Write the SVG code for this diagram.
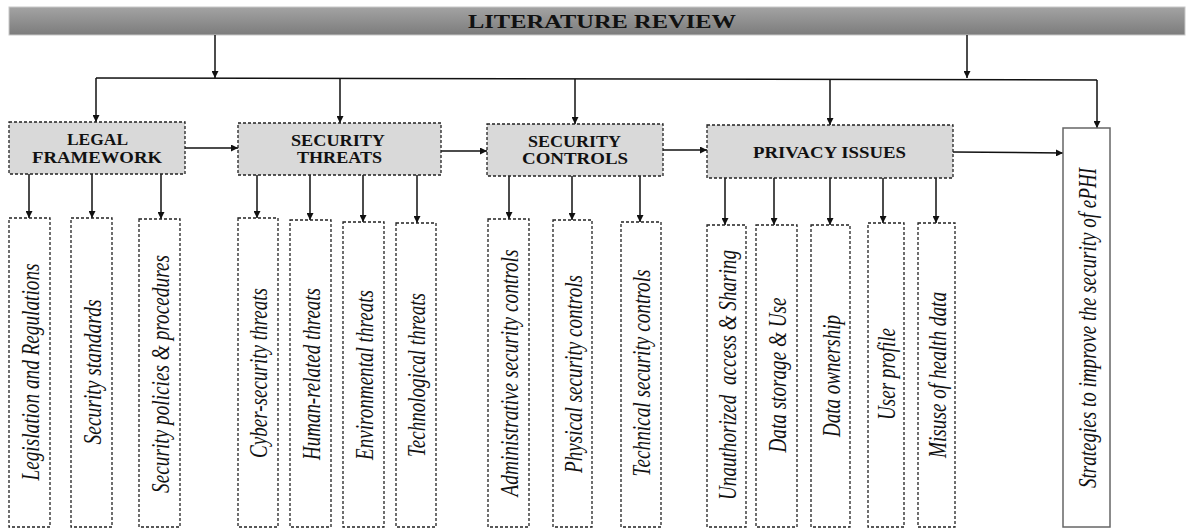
<svg xmlns="http://www.w3.org/2000/svg" width="1188" height="529" viewBox="0 0 1188 529">
<defs>
<linearGradient id="barG" x1="0" y1="0" x2="0" y2="1">
<stop offset="0" stop-color="#a3a3a3"/>
<stop offset="1" stop-color="#7c7c7c"/>
</linearGradient>
<marker id="ah" viewBox="0 0 10 10" refX="10" refY="5" markerWidth="7" markerHeight="7" markerUnits="userSpaceOnUse" orient="auto">
<path d="M0,0 L10,5 L0,10 z" fill="#111"/>
</marker>
</defs>
<style>
.parent{fill:#d9d9d9;stroke:#222;stroke-width:1.3;stroke-dasharray:3 2}
.child{fill:#fff;stroke:#222;stroke-width:1.3;stroke-dasharray:3 2}
.hd{font-family:"Liberation Serif","Times New Roman",serif;font-weight:bold;font-size:16px;fill:#111;text-anchor:middle}
.title{font-size:19px}
.it{font-family:"Liberation Serif","Times New Roman",serif;font-style:italic;font-size:25px;fill:#111;text-anchor:middle;white-space:pre}
.ln{fill:none;stroke:#111;stroke-width:1.5}
.ar{fill:none;stroke:#111;stroke-width:1.5;marker-end:url(#ah)}
</style>
<rect width="1188" height="529" fill="#fff"/>

<g id="literature-review">
<rect x="9" y="7" width="1176" height="28" fill="url(#barG)" stroke="#c8c8c8" stroke-width="1"/>
<text x="602" y="27.5" class="hd title" textLength="268" lengthAdjust="spacingAndGlyphs">LITERATURE REVIEW</text>
</g>

<g id="connectors">
<line class="ar" x1="215" y1="35" x2="215" y2="78"/>
<line class="ar" x1="967" y1="35" x2="967" y2="78"/>
<line class="ln" x1="96" y1="78" x2="1097" y2="80"/>
<line class="ar" x1="96" y1="78" x2="96" y2="122"/>
<line class="ar" x1="340" y1="79" x2="340" y2="123"/>
<line class="ar" x1="575" y1="79" x2="575" y2="124"/>
<line class="ar" x1="830" y1="80" x2="830" y2="125"/>
<line class="ar" x1="1097" y1="80" x2="1097" y2="128"/>
<line class="ar" x1="185" y1="148" x2="238" y2="148"/>
<line class="ar" x1="441" y1="151" x2="487" y2="151"/>
<line class="ar" x1="663" y1="150" x2="707" y2="150"/>
<line class="ar" x1="953" y1="152" x2="1063" y2="153"/>
<line class="ar" x1="29" y1="174" x2="29" y2="218"/>
<line class="ar" x1="92" y1="174" x2="92" y2="218"/>
<line class="ar" x1="161" y1="174" x2="161" y2="219"/>
<line class="ar" x1="257" y1="175" x2="257" y2="218"/>
<line class="ar" x1="310" y1="175" x2="310" y2="220"/>
<line class="ar" x1="363" y1="175" x2="363" y2="222"/>
<line class="ar" x1="417" y1="175" x2="417" y2="223"/>
<line class="ar" x1="509" y1="176" x2="509" y2="219"/>
<line class="ar" x1="572" y1="176" x2="572" y2="220"/>
<line class="ar" x1="640" y1="176" x2="640" y2="222"/>
<line class="ar" x1="725" y1="178" x2="725" y2="225"/>
<line class="ar" x1="774" y1="178" x2="774" y2="225"/>
<line class="ar" x1="830" y1="178" x2="830" y2="225"/>
<line class="ar" x1="883" y1="178" x2="883" y2="223"/>
<line class="ar" x1="936" y1="178" x2="936" y2="223"/>
</g>

<g id="legal-framework">
<rect class="parent" x="9" y="122" width="176" height="52"/>
<text class="hd" x="97.5" y="145" textLength="61" lengthAdjust="spacingAndGlyphs">LEGAL</text>
<text class="hd" x="97" y="163" textLength="130" lengthAdjust="spacingAndGlyphs">FRAMEWORK</text>
</g>
<g id="security-threats">
<rect class="parent" x="238" y="123" width="203" height="52"/>
<text class="hd" x="338" y="146" textLength="94" lengthAdjust="spacingAndGlyphs">SECURITY</text>
<text class="hd" x="339.5" y="163" textLength="85" lengthAdjust="spacingAndGlyphs">THREATS</text>
</g>
<g id="security-controls">
<rect class="parent" x="487" y="124" width="176" height="52"/>
<text class="hd" x="574.5" y="147" textLength="93" lengthAdjust="spacingAndGlyphs">SECURITY</text>
<text class="hd" x="575" y="164" textLength="106" lengthAdjust="spacingAndGlyphs">CONTROLS</text>
</g>
<g id="privacy-issues">
<rect class="parent" x="707" y="125" width="246" height="53"/>
<text class="hd" x="829.5" y="158" textLength="153" lengthAdjust="spacingAndGlyphs">PRIVACY ISSUES</text>
</g>
<g id="strategies">
<rect x="1063" y="128" width="47" height="399" fill="#fff" stroke="#666" stroke-width="1.5"/>
<text class="it" transform="translate(1096,328) rotate(-90)" textLength="320" lengthAdjust="spacingAndGlyphs">Strategies to improve the security of ePHI</text>
</g>

<g id="legislation">
<rect class="child" x="9" y="218" width="41" height="309"/>
<text class="it" transform="translate(38.5,372) rotate(-90)" textLength="217" lengthAdjust="spacingAndGlyphs">Legislation and Regulations</text>
</g>
<g id="security-standards">
<rect class="child" x="71" y="218" width="41" height="309"/>
<text class="it" transform="translate(100.5,372) rotate(-90)" textLength="145" lengthAdjust="spacingAndGlyphs">Security standards</text>
</g>
<g id="security-policies">
<rect class="child" x="139" y="219" width="41" height="308"/>
<text class="it" transform="translate(168.5,374) rotate(-90)" textLength="238" lengthAdjust="spacingAndGlyphs">Security policies &amp; procedures</text>
</g>
<g id="cyber-threats">
<rect class="child" x="238" y="218" width="40" height="309"/>
<text class="it" transform="translate(267,373) rotate(-90)" textLength="170" lengthAdjust="spacingAndGlyphs">Cyber-security threats</text>
</g>
<g id="human-threats">
<rect class="child" x="290" y="220" width="41" height="307"/>
<text class="it" transform="translate(319.5,374) rotate(-90)" textLength="172" lengthAdjust="spacingAndGlyphs">Human-related threats</text>
</g>
<g id="environmental-threats">
<rect class="child" x="343" y="222" width="41" height="305"/>
<text class="it" transform="translate(372.5,375) rotate(-90)" textLength="170" lengthAdjust="spacingAndGlyphs">Environmental threats</text>
</g>
<g id="technological-threats">
<rect class="child" x="396" y="223" width="40" height="304"/>
<text class="it" transform="translate(425,375) rotate(-90)" textLength="164" lengthAdjust="spacingAndGlyphs">Technological threats</text>
</g>
<g id="administrative-controls">
<rect class="child" x="488" y="219" width="41" height="308"/>
<text class="it" transform="translate(517.5,373) rotate(-90)" textLength="247" lengthAdjust="spacingAndGlyphs">Administrative security controls</text>
</g>
<g id="physical-controls">
<rect class="child" x="553" y="220" width="39" height="307"/>
<text class="it" transform="translate(581.5,374) rotate(-90)" textLength="198" lengthAdjust="spacingAndGlyphs">Physical security controls</text>
</g>
<g id="technical-controls">
<rect class="child" x="621" y="222" width="40" height="305"/>
<text class="it" transform="translate(650,373) rotate(-90)" textLength="207" lengthAdjust="spacingAndGlyphs">Technical security controls</text>
</g>
<g id="unauthorized-access">
<rect class="child" x="707" y="225" width="39" height="302"/>
<text class="it" transform="translate(735.5,375) rotate(-90)" textLength="250" lengthAdjust="spacingAndGlyphs">Unauthorized  access &amp; Sharing</text>
</g>
<g id="data-storage">
<rect class="child" x="756" y="225" width="41" height="302"/>
<text class="it" transform="translate(785.5,375) rotate(-90)" textLength="155" lengthAdjust="spacingAndGlyphs">Data storage &amp; Use</text>
</g>
<g id="data-ownership">
<rect class="child" x="811" y="225" width="39" height="302"/>
<text class="it" transform="translate(839.5,376) rotate(-90)" textLength="122" lengthAdjust="spacingAndGlyphs">Data ownership</text>
</g>
<g id="user-profile">
<rect class="child" x="868" y="223" width="36" height="304"/>
<text class="it" transform="translate(895,374) rotate(-90)" textLength="92" lengthAdjust="spacingAndGlyphs">User profile</text>
</g>
<g id="misuse">
<rect class="child" x="918" y="223" width="37" height="304"/>
<text class="it" transform="translate(945.5,375) rotate(-90)" textLength="166" lengthAdjust="spacingAndGlyphs">Misuse of health data</text>
</g>
</svg>
